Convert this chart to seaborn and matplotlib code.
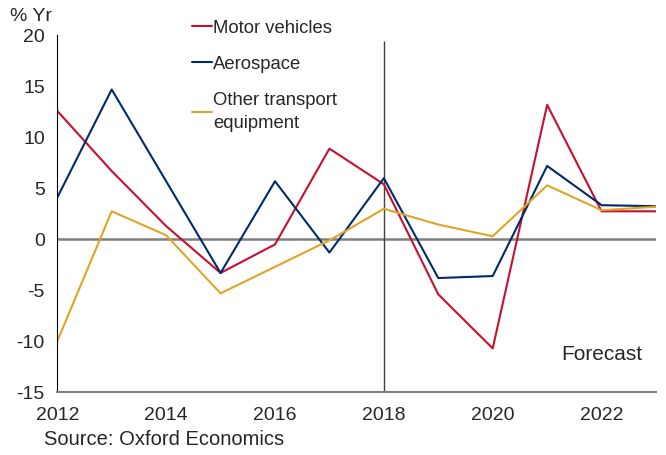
import matplotlib.pyplot as plt
import numpy as np
import pandas as pd
import seaborn as sns

plt.switch_backend("Agg")

# --- data ---
years = list(range(2012, 2024))
motor_vehicles = [12.6, 6.7, 1.3, -3.3, -0.5, 8.9, 5.4, -5.4, -10.7, 13.2, 2.75, 2.75]
aerospace = [4.1, 14.7, 5.7, -3.3, 5.7, -1.3, 6.0, -3.8, -3.6, 7.2, 3.35, 3.25]
other_transport = [-10.0, 2.75, 0.4, -5.3, -2.7, -0.1, 3.0, 1.45, 0.3, 5.3, 2.85, 3.2]
series_names = ["Motor vehicles", "Aerospace", "Other transport\nequipment"]
palette = ["#C8102E", "#002A6C", "#E0A526"]
forecast_year = 2018

df = pd.DataFrame({"year": years,
                   series_names[0]: motor_vehicles,
                   series_names[1]: aerospace,
                   series_names[2]: other_transport})
long = df.melt(id_vars="year", var_name="series", value_name="value")

sns.set_style("white")
plt.rcParams["font.family"] = ["Liberation Sans", "DejaVu Sans"]
plt.rcParams["axes.unicode_minus"] = False

fig = plt.figure(figsize=(6.66, 4.55), dpi=100)
ax = fig.add_axes([0.086, 0.138, 0.899, 0.784])

sns.lineplot(data=long, x="year", y="value", hue="series",
             hue_order=series_names, palette=palette, linewidth=1.5, ax=ax)

ax.axhline(0, color="#7f7f7f", linewidth=1.8, zorder=0)
ax.vlines(forecast_year, -15, 19.5, color="#404040", linewidth=1.0, zorder=0)

ax.set_xlim(2012, 2023)
ax.set_ylim(-15, 20)
ax.set_xticks(years)
ax.set_xticklabels([str(y) if y % 2 == 0 else "" for y in years])
ax.set_yticks(range(-15, 21, 5))
ax.tick_params(axis="both", labelsize=14, length=5, width=1, color="#404040",
               direction="out", pad=6)
ax.tick_params(axis="y", pad=4)
ax.set_xlabel("")
ax.set_ylabel("")

for side in ["top", "right"]:
    ax.spines[side].set_visible(False)
ax.spines["left"].set_color("black")
ax.spines["bottom"].set_color("#7f7f7f")
ax.spines["bottom"].set_linewidth(1.5)

leg = ax.legend(loc="upper left", bbox_to_anchor=(0.288, 0.957),
                bbox_transform=fig.transFigure, frameon=False,
                fontsize=13.3, handlelength=1.08, handletextpad=0.08,
                labelspacing=1.05, borderpad=0, borderaxespad=0)
for t in leg.get_texts():
    t.set_linespacing(1.4)

fig.text(0.015, 0.963, "% Yr", fontsize=14, ha="left", va="center")
ax.text(2022, -11.3, "Forecast", fontsize=15, ha="center", va="center")
fig.text(0.066, 0.033, "Source: Oxford Economics", fontsize=14.5, ha="left", va="center")

fig.savefig("out.png", dpi=100)
